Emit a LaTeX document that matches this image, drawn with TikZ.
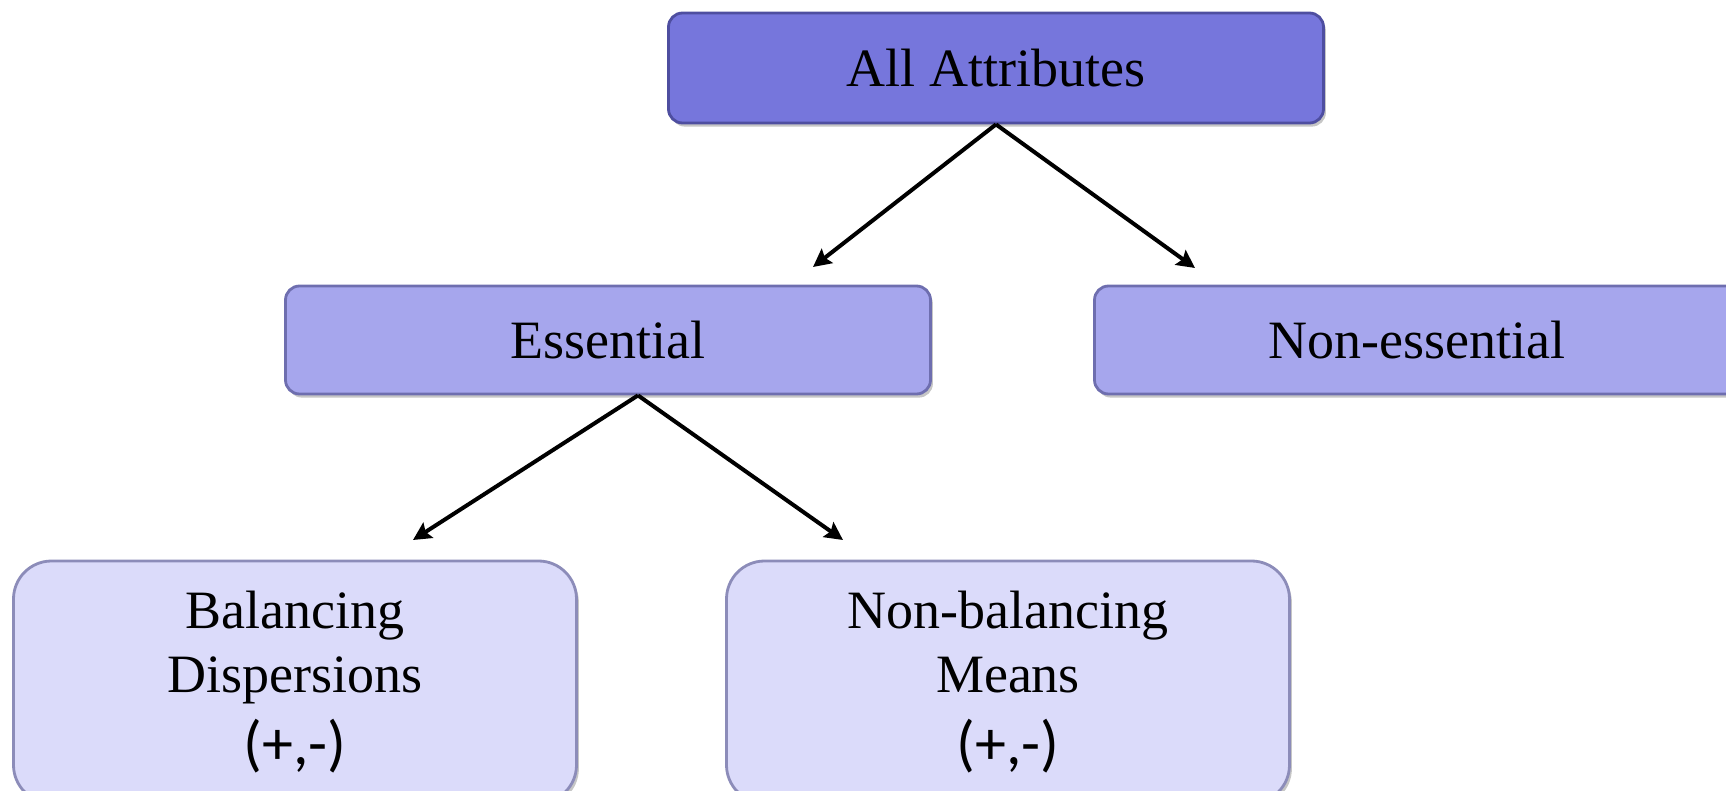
\documentclass[tikz,border=0pt]{standalone}
\usepackage{fontspec}
\setmainfont{Liberation Serif}
\newfontfamily\signfont{Carlito}
\usetikzlibrary{arrows.meta,shadows}

\begin{document}
\begin{tikzpicture}[x=0.5pt, y=-0.5pt,
        topnode/.style={rectangle, rounded corners=7pt, fill=topblue, draw=topedge, line width=1.4pt,
                        drop shadow={shadow xshift=1.2pt, shadow yshift=-1.8pt, opacity=0.45},
                        minimum width=327.5pt, minimum height=55pt,
                        font=\fontsize{27}{32}\selectfont},
        midnode/.style={topnode, fill=midblue, draw=midedge, minimum width=322.5pt, minimum height=54pt},
        leafnode/.style={topnode, rounded corners=19pt, fill=leafblue, draw=leafedge,
                        minimum width=281.5pt, minimum height=121pt, align=center},
        arr/.style={-{Stealth[length=9pt, width=9pt, inset=1.5pt]}, black, line width=2pt},
        ]
                \definecolor{topblue}{RGB}{118,118,220}
                \definecolor{topedge}{RGB}{78,78,160}
                \definecolor{midblue}{RGB}{166,166,237}
                \definecolor{midedge}{RGB}{110,110,175}
                \definecolor{leafblue}{RGB}{219,219,250}
                \definecolor{leafedge}{RGB}{140,140,185}

                \useasboundingbox (0,0) rectangle (1726,791);
                \clip (0,0) rectangle (1726,791);

                \node[topnode]  at(996,68)   (all) {All Attributes};
                \node[midnode]  at(608,340)  (ess) {Essential};
                \node[midnode]  at(1417,340) (noness) {Non-essential};
                \node[leafnode] at(295,682)  (bal) {Balancing\\Dispersions\\[4pt]{\signfont\fontsize{31}{32}\selectfont(+,-)}};
                \node[leafnode] at(1008,682) (nonbal) {Non-balancing\\Means\\[4pt]{\signfont\fontsize{31}{32}\selectfont(+,-)}};

                \coordinate (essin)    at (813,267);
                \coordinate (nonessin) at (1195,268);
                \coordinate (balin)    at (413,540);
                \coordinate (nonbalin) at (843,540);

                \draw[arr] (all.south)  --  (essin) ; 
                \draw[arr] (all.south)  --  (nonessin) ; 
                \draw[arr] ([xshift=15pt]ess.south)  --  (balin) ; 
                \draw[arr] ([xshift=15pt]ess.south)  --  (nonbalin) ;
                
            \end{tikzpicture}
\end{document}
